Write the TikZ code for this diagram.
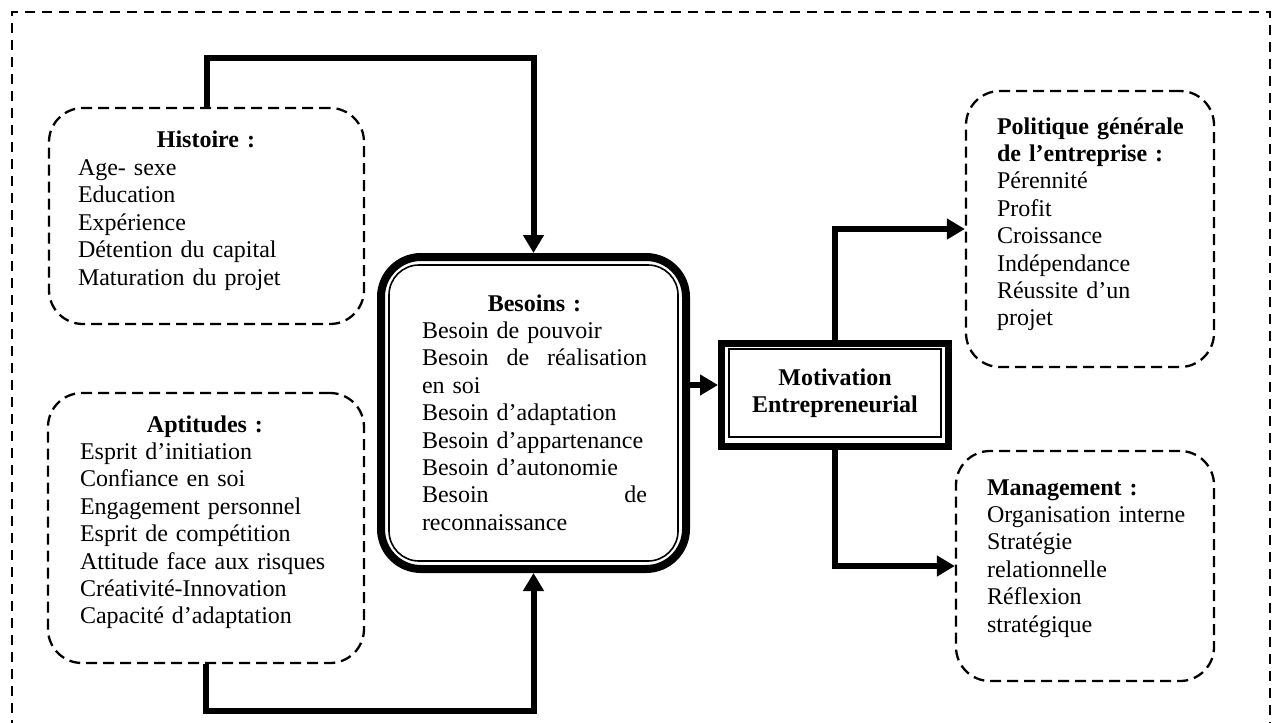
\documentclass[tikz,border=0pt]{standalone}
\usepackage{fontspec}
\setmainfont{Liberation Serif}
\usetikzlibrary{arrows.meta}

\begin{document}
\begin{tikzpicture}[x=0.5pt,y=-0.5pt,
  frame/.style={line width=1pt, dash pattern=on 5pt off 3.5pt},
  dbox/.style={draw, rounded corners=17pt, line width=1.15pt,
    dash pattern=on 5.5pt off 3pt},
  thickbox/.style={draw, line width=#1},
  conn/.style={line width=3pt, line join=miter,
    -{Triangle[width=10pt,length=9pt]}},
  txt/.style={anchor=base west, inner sep=0pt, outer sep=0pt,
    text width=#1, align=left, font=\fontsize{12}{13.7}\selectfont}]

\useasboundingbox (0,0) rectangle (1272,722);
\clip (0,0) rectangle (1272,722);

% outer dashed frame
\draw[frame] (12,730) -- (12,12) -- (1270,12) -- (1270,730);

% left-hand input boxes
\node[dbox, minimum width=157.5pt, minimum height=108pt] (hist) at (206.5,216) {};
\node[dbox, minimum width=158pt, minimum height=135pt] (apt) at (206,528) {};

\node[txt=128pt] (histtxt) at (78,148)
  {\makebox[\linewidth]{\textbf{Histoire :}}\\
   Age- sexe\\Education\\Expérience\\Détention du capital\\Maturation du projet};

\node[txt=125pt] (apttxt) at (80,432)
  {\makebox[\linewidth]{\textbf{Aptitudes :}}\\
   Esprit d’initiation\\Confiance en soi\\Engagement personnel\\
   Esprit de compétition\\Attitude face aux risques\\
   Créativité-Innovation\\Capacité d’adaptation};

% central needs box (thick outer border, thin inner border)
\node[thickbox=4pt, rounded corners=20pt, minimum width=152.5pt,
      minimum height=156pt] (bes) at (533.5,413) {};
\node[thickbox=0.8pt, rounded corners=15pt, minimum width=144.5pt,
      minimum height=148pt] (besin) at (533.5,413) {};

\node[txt=112.5pt] (bestxt) at (422,311)
  {\makebox[\linewidth]{\textbf{Besoins :}}\\
   Besoin de pouvoir\\
   \makebox[\linewidth][l]{Besoin\hfill de\hfill réalisation}\\
   en soi\\Besoin d’adaptation\\Besoin d’appartenance\\Besoin d’autonomie\\
   \makebox[\linewidth][l]{Besoin\hfill de}\\
   reconnaissance};

% motivation box
\node[thickbox=3.5pt, minimum width=113.5pt, minimum height=51.5pt] (mot) at (835,395) {};
\node[thickbox=0.8pt, minimum width=106pt, minimum height=44pt, align=center,
      font=\fontsize{12}{13.7}\selectfont\bfseries] (motin) at (835,393)
  {Motivation\\Entrepreneurial};

% right-hand output boxes
\node[dbox, minimum width=124pt, minimum height=138pt] (pol) at (1090,229) {};
\node[dbox, minimum width=129pt, minimum height=115pt] (man) at (1085,566) {};

\node[txt=115pt] (poltxt) at (997,134)
  {\textbf{Politique générale}\\\textbf{de l’entreprise :}\\
   Pérennité\\Profit\\Croissance\\Indépendance\\Réussite d’un\\projet};

\node[txt=120pt] (mantxt) at (987,495)
  {\textbf{Management :}\\Organisation interne\\Stratégie\\relationnelle\\
   Réflexion\\stratégique};

% connectors
\coordinate (row) at (0,385);
\draw[conn] (hist.north) -- ++(0,-49) -| (bes.north);
\draw[conn] (apt.south) -- ++(0,47) -| (bes.south);
\draw[conn] (bes.east |- row) -- (mot.west |- row);
\draw[conn] (mot.north) |- (pol.west);
\draw[conn] (mot.south) |- (man.west);
\end{tikzpicture}
\end{document}
